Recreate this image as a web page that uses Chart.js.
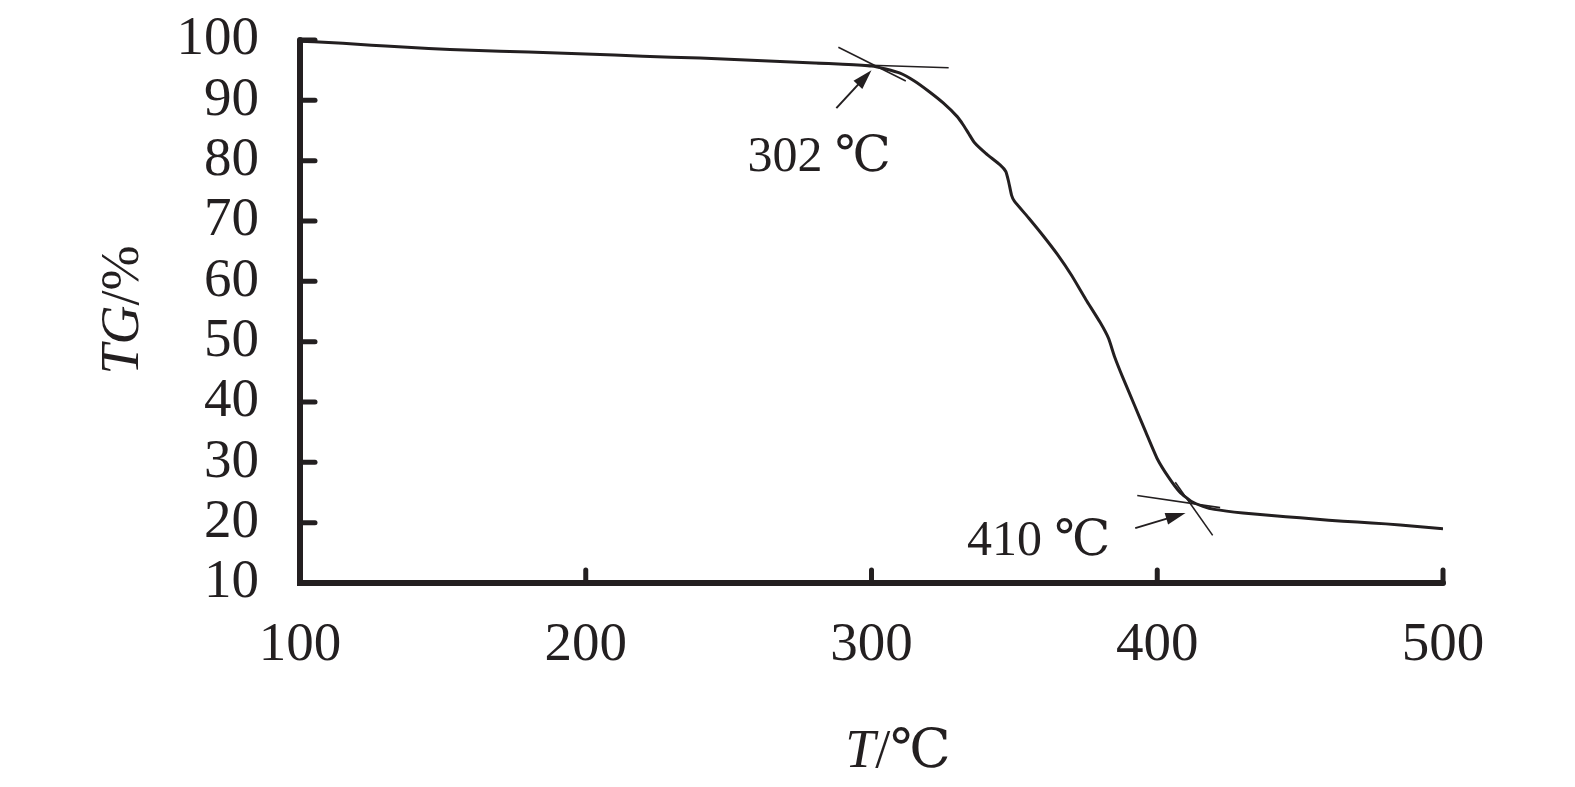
<!DOCTYPE html>
<html><head><meta charset="utf-8">
<script src="https://cdn.jsdelivr.net/npm/chart.js@4/dist/chart.umd.min.js"></script>
<style>html,body{margin:0;padding:0;background:#fff;overflow:hidden}#wrap{width:1575px;height:787px}</style>
</head><body><div id="wrap"><canvas id="c" width="1575" height="787"></canvas></div>
<script>
// ---- data ----
const temperature = [100,110,120,130,145,160,180,200,220,240,260,280,290,300,305,310,315,320,325,330,332,334,336,340,345,347,348,349,350,355,360,365,370,375,380,383,385,388,392,396,400,404,408,412,416,420,430,440,450,460,470,480,490,500];
const tgPercent   = [99.8,99.6,99.3,99.0,98.6,98.3,98.0,97.7,97.3,97.0,96.6,96.2,96.0,95.7,95.2,94.5,93.2,91.5,89.6,87.3,86.0,84.5,83.0,81.2,79.3,78.2,76.5,74.3,73.3,70.5,67.6,64.5,61.0,57.0,53.2,50.5,47.6,44.0,39.5,35.0,30.6,27.5,25.0,23.5,22.7,22.2,21.6,21.2,20.8,20.4,20.1,19.8,19.4,19.0];
const xTickValues = [100,200,300,400,500];
const yTickValues = [10,20,30,40,50,60,70,80,90,100];
// tangent lines (T, TG)
const tangent302FlatT = [281,327],  tangent302FlatTG = [96.1,95.4];
const tangent302SteepT = [288.4,312], tangent302SteepTG = [98.8,93.2];
const tangent410FlatT = [393,422],  tangent410FlatTG = [24.5,22.5];
const tangent410SteepT = [406.3,419.4], tangent410SteepTG = [26.7,17.9];
// arrows: [tailT, tailTG, headT, headTG]
const arrow302 = [287.7,88.7,300.0,95.0];
const arrow410 = [392.3,19.1,409.9,21.6];
// annotation labels
const labelTexts = ['302 \u2103','410 \u2103'];
const labelT = [281.7,358.5];
const labelTG = [78.3,14.6];
const yTitleItalic = 'TG', yTitleRest = '/%';
const xTitleItalic = 'T', xTitleRest = '/\u2103';

const INK = '#231f20';
const SERIF = "'Liberation Serif','DejaVu Serif','Noto Sans CJK SC',serif";
const pts = (xs, ys) => xs.map((x,i)=>({x, y: ys[i]}));

const decor = {
  id:'decor',
  afterDraw(chart){
    const ctx = chart.ctx, a = chart.chartArea;
    const xs = chart.scales.x, ys = chart.scales.y;
    ctx.save();
    ctx.strokeStyle = INK; ctx.fillStyle = INK;
    // axes
    ctx.lineWidth = 6; ctx.lineCap = 'round'; ctx.lineJoin='miter';
    ctx.beginPath();
    ctx.moveTo(a.left, ys.getPixelForValue(100));
    ctx.lineTo(a.left, a.bottom);
    ctx.lineTo(xs.getPixelForValue(500), a.bottom);
    ctx.stroke();
    // inward ticks
    ctx.lineWidth = 5;
    xTickValues.forEach(v=>{ const px = xs.getPixelForValue(v); if (v===100) return;
      ctx.beginPath(); ctx.moveTo(px,a.bottom); ctx.lineTo(px,a.bottom-13); ctx.stroke(); });
    yTickValues.forEach(v=>{ const py = ys.getPixelForValue(v); if (v===10) return;
      ctx.beginPath(); ctx.moveTo(a.left,py); ctx.lineTo(a.left+15,py); ctx.stroke(); });
    // arrows
    [arrow302, arrow410].forEach(ar=>{
      const x1 = xs.getPixelForValue(ar[0]), y1 = ys.getPixelForValue(ar[1]);
      const x2 = xs.getPixelForValue(ar[2]), y2 = ys.getPixelForValue(ar[3]);
      const ang = Math.atan2(y2-y1, x2-x1), L = 20, W = 6;
      ctx.lineWidth = 2; ctx.lineCap='butt';
      ctx.beginPath(); ctx.moveTo(x1,y1); ctx.lineTo(x2 - Math.cos(ang)*L*0.8, y2 - Math.sin(ang)*L*0.8); ctx.stroke();
      ctx.beginPath();
      ctx.moveTo(x2,y2);
      ctx.lineTo(x2 - Math.cos(ang)*L - Math.sin(ang)*W, y2 - Math.sin(ang)*L + Math.cos(ang)*W);
      ctx.lineTo(x2 - Math.cos(ang)*L + Math.sin(ang)*W, y2 - Math.sin(ang)*L - Math.cos(ang)*W);
      ctx.closePath(); ctx.fill();
    });
    // annotation labels
    ctx.font = '50px ' + SERIF; ctx.textAlign='center'; ctx.textBaseline='alphabetic';
    labelTexts.forEach((t,i)=> ctx.fillText(t, xs.getPixelForValue(labelT[i]), ys.getPixelForValue(labelTG[i])));
    // axis titles
    const drawMixed = (it, rest, cx, baseY) => {
      ctx.font = 'italic 54px ' + SERIF; const w1 = ctx.measureText(it).width;
      ctx.font = '54px ' + SERIF; const w2 = ctx.measureText(rest).width;
      const start = cx - (w1+w2)/2;
      ctx.textAlign='left';
      ctx.font = 'italic 54px ' + SERIF; ctx.fillText(it, start, baseY);
      ctx.font = '54px ' + SERIF; ctx.fillText(rest, start + w1, baseY);
    };
    drawMixed(xTitleItalic, xTitleRest, 898, 767);
    ctx.save(); ctx.translate(138, 310); ctx.rotate(-Math.PI/2);
    drawMixed(yTitleItalic, yTitleRest, 0, 0);
    ctx.restore();
    ctx.restore();
  }
};

const tangentStyle = {borderColor: INK, borderWidth: 1.6, pointRadius: 0, showLine: true, fill: false};

new Chart(document.getElementById('c'), {
  type: 'scatter',
  data: { datasets: [
    {label:'TG', data: pts(temperature, tgPercent), showLine:true, borderColor: INK, borderWidth: 3, pointRadius: 0, tension: 0.15},
    Object.assign({label:'t1', data: pts(tangent302FlatT, tangent302FlatTG)}, tangentStyle),
    Object.assign({label:'t2', data: pts(tangent302SteepT, tangent302SteepTG)}, tangentStyle),
    Object.assign({label:'t3', data: pts(tangent410FlatT, tangent410FlatTG)}, tangentStyle),
    Object.assign({label:'t4', data: pts(tangent410SteepT, tangent410SteepTG)}, tangentStyle)
  ]},
  options: {
    responsive: false, devicePixelRatio: 1, animation: false,
    layout: { padding: { top: 40, right: 132, left: 0, bottom: 0 } },
    plugins: { legend: {display:false}, tooltip: {enabled:false} },
    scales: {
      x: { type:'linear', min:100, max:500,
        afterBuildTicks: s => { s.ticks = xTickValues.map(v=>({value:v})); },
        afterFit: s => { s.height = 204; s.paddingLeft = 0; s.paddingRight = 0; },
        grid: {display:false, drawTicks:false}, border:{display:false},
        ticks: { color: INK, padding: 30, autoSkip:false, maxRotation:0, font: {family: SERIF, size: 55} } },
      y: { min:10, max:100,
        afterBuildTicks: s => { s.ticks = yTickValues.map(v=>({value:v})); },
        afterFit: s => { s.width = 300; s.paddingTop = 0; s.paddingBottom = 0; },
        grid: {display:false, drawTicks:false}, border:{display:false},
        ticks: { color: INK, padding: 41, autoSkip:false, font: {family: SERIF, size: 55} } }
    }
  },
  plugins: [decor]
});
</script></body></html>
